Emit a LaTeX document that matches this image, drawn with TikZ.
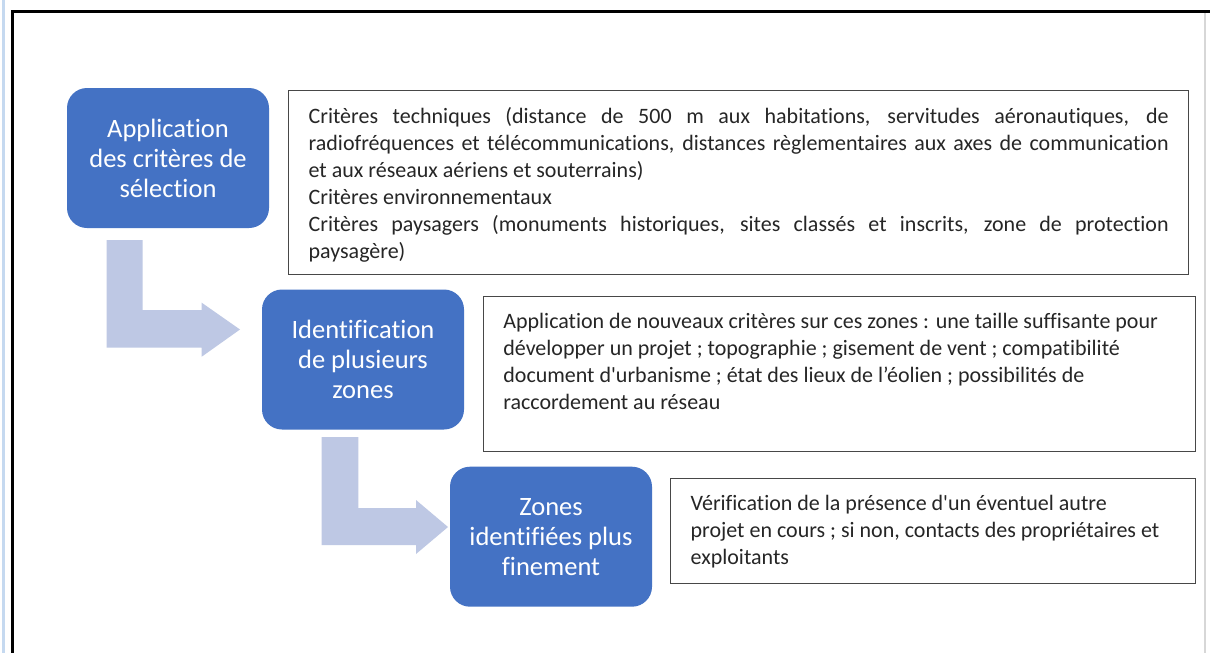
\documentclass[tikz,border=0pt]{standalone}
\usepackage{fontspec}
\setmainfont{Carlito}[Ligatures={TeXOff,NoCommon}]
\usetikzlibrary{calc}

\definecolor{stageblue}{RGB}{68,114,196}
\definecolor{flowarrow}{RGB}{190,200,228}
\definecolor{sidebar}{RGB}{197,217,240}
\definecolor{edgegray}{RGB}{215,215,215}

\tikzset{
  stage/.style={fill=stageblue, draw=none, rounded corners=20pt, text=white,
    align=center, minimum width=202pt, minimum height=140pt, inner sep=0pt,
    font=\fontsize{26.5}{30}\selectfont},
  infobox/.style={draw=black!72, line width=1.3pt, fill=white, anchor=north west,
    inner xsep=20pt, inner ysep=0pt, text=black!85,
    font=\fontsize{22}{27}\selectfont},
  flow/.style={fill=flowarrow, draw=none},
}
% justified line of a given width
\newcommand{\jline}[1]{\makebox[\linewidth][s]{#1}}
% top-aligned text block of given height and width
\newcommand{\infotext}[3]{\parbox[c][#1][t]{#2}{\vspace*{16.5pt}#3}}

\begin{document}
\begin{tikzpicture}[x=1pt,y=-1pt]
  \useasboundingbox (0,0) rectangle (1210,653);
  \fill[white] (0,0) rectangle (1210,653);

  % page frame
  \fill[sidebar] (2,0) rectangle (5,653);
  \draw[line width=3pt] (12.5,653) -- (12.5,11.5) -- (1210,11.5);
  \draw[edgegray, line width=2pt] (1205,13) -- (1205,653);

  % steps
  \node[stage] (sel)   at (168,158)   {Application\\des critères de\\sélection};
  \node[stage] (zones) at (363,359.5) {Identification\\de plusieurs\\zones};
  \node[stage] (fine)  at (551,536.7) {Zones\\identifiées plus\\finement};

  % descriptions
  \node[infobox] (crit) at (288,90) {\infotext{184pt}{860pt}{%
    \jline{Critères techniques (distance de 500 m aux habitations, servitudes aéronautiques, de}\\
    \jline{radiofréquences et télécommunications, distances règlementaires aux axes de communication}\\
    et aux réseaux aériens et souterrains)\\
    Critères environnementaux\\
    \jline{Critères paysagers (monuments historiques, sites classés et inscrits, zone de protection}\\
    paysagère)}};
  \node[infobox] (newcrit) at (482.7,296) {\infotext{154.7pt}{672.3pt}{%
    Application de nouveaux critères sur ces zones : une taille suffisante pour\\
    développer un projet ; topographie ; gisement de vent ; compatibilité\\
    document d'urbanisme ; état des lieux de l’éolien ; possibilités de\\
    raccordement au réseau}};
  \node[infobox] (check) at (670,478) {\infotext{104.5pt}{485pt}{%
    Vérification de la présence d'un éventuel autre\\
    projet en cours ; si non, contacts des propriétaires et\\
    exploitants}};

  % bent block arrows between steps
  \coordinate (a1s) at (106.7,240);
  \coordinate (a1t) at (240,329.5);
  \fill[flow] (a1s) -- (142.7,240) -- (142.7,310) -- (201.7,310) -- (201.7,302.7)
    -- (a1t) -- (201.7,356.7) -- (201.7,347.7) -- (106.7,347.7) -- cycle;
  \coordinate (a2s) at (321.7,437);
  \coordinate (a2t) at (448,527);
  \fill[flow] (a2s) -- (358.3,437) -- (358.3,508) -- (416,508) -- (416,500)
    -- (a2t) -- (416,554) -- (416,545) -- (321.7,545) -- cycle;
\end{tikzpicture}
\end{document}
